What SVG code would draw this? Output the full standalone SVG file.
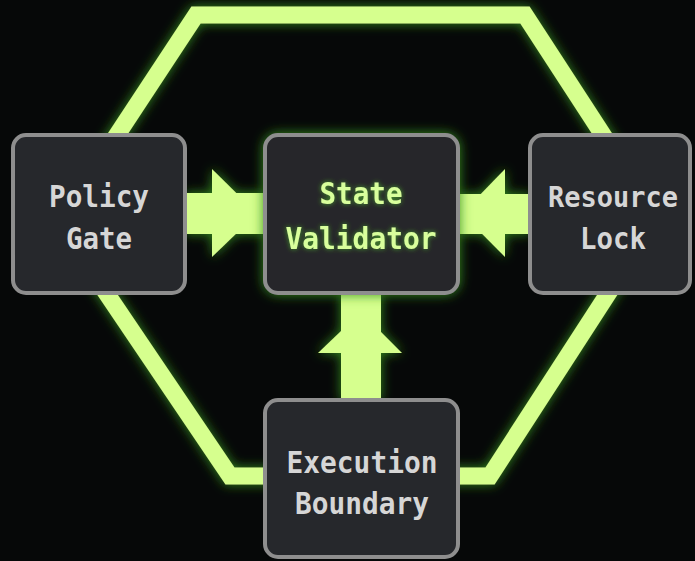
<svg xmlns="http://www.w3.org/2000/svg" width="695" height="561" viewBox="0 0 695 561">
  <defs>
    <filter id="glow" x="-30%" y="-30%" width="160%" height="160%">
      <feGaussianBlur in="SourceAlpha" stdDeviation="6" result="b"/>
      <feFlood flood-color="#36921e" flood-opacity="0.95"/>
      <feComposite in2="b" operator="in" result="g"/>
      <feMerge><feMergeNode in="g"/><feMergeNode in="SourceGraphic"/></feMerge>
    </filter>
    <filter id="textglow" x="-20%" y="-40%" width="140%" height="180%">
      <feGaussianBlur in="SourceAlpha" stdDeviation="2.5" result="b"/>
      <feFlood flood-color="#4fbf2a" flood-opacity="0.8"/>
      <feComposite in2="b" operator="in" result="g"/>
      <feMerge><feMergeNode in="g"/><feMergeNode in="SourceGraphic"/></feMerge>
    </filter>
    <style>
      .node rect { fill: #26282c; stroke: #8e8e8e; stroke-width: 4; }
      .label { font-family: "DejaVu Sans Mono", "Liberation Mono", monospace; font-size: 31px; font-weight: bold; fill: #d6d6d6; text-anchor: middle; }
      .hot { fill: #d8ff9c; }
      .wire { fill: #d6ff8e; }
      .hex { fill: none; stroke: #d6ff8e; stroke-width: 17; stroke-linejoin: miter; }
    </style>
  </defs>
  <rect width="695" height="561" fill="#060808"/>

  <g id="boundary-ring" filter="url(#glow)">
    <polygon class="hex" points="196,15 525,15 657,218 490,476 230,476 59,223"/>
  </g>

  <g id="connectors" filter="url(#glow)">
    <g id="policy-to-state">
      <rect class="wire" x="185" y="193" width="80" height="41"/>
      <polygon class="wire" points="212,169 257,213.5 212,257"/>
    </g>
    <g id="resource-to-state">
      <rect class="wire" x="458" y="194" width="72" height="40"/>
      <polygon class="wire" points="505,169 462,213.5 505,257"/>
    </g>
    <g id="execution-to-state">
      <rect class="wire" x="341" y="292" width="40" height="108"/>
      <polygon class="wire" points="318,353 361,312 402,353"/>
    </g>
  </g>

  <g id="policy-gate" class="node">
    <rect x="13" y="135" width="172" height="158" rx="13"/>
    <text class="label" x="99" y="207" textLength="100" lengthAdjust="spacingAndGlyphs">Policy</text>
    <text class="label" x="99" y="249" textLength="66" lengthAdjust="spacingAndGlyphs">Gate</text>
  </g>

  <g id="state-validator" class="node">
    <rect x="265" y="135" width="193" height="158" rx="13" filter="url(#glow)"/>
    <g filter="url(#textglow)">
      <text class="label hot" x="361" y="204" textLength="83" lengthAdjust="spacingAndGlyphs">State</text>
      <text class="label hot" x="361" y="249" textLength="151" lengthAdjust="spacingAndGlyphs">Validator</text>
    </g>
  </g>

  <g id="resource-lock" class="node">
    <rect x="530" y="135" width="160" height="158" rx="13"/>
    <text class="label" x="613" y="207" font-size="29" textLength="130" lengthAdjust="spacingAndGlyphs" style="font-size:29px">Resource</text>
    <text class="label" x="613" y="249" textLength="66" lengthAdjust="spacingAndGlyphs">Lock</text>
  </g>

  <g id="execution-boundary" class="node">
    <rect x="265" y="400" width="193" height="157" rx="13"/>
    <text class="label" x="362" y="473" textLength="151" lengthAdjust="spacingAndGlyphs">Execution</text>
    <text class="label" x="362" y="514" textLength="134" lengthAdjust="spacingAndGlyphs">Boundary</text>
  </g>
</svg>
